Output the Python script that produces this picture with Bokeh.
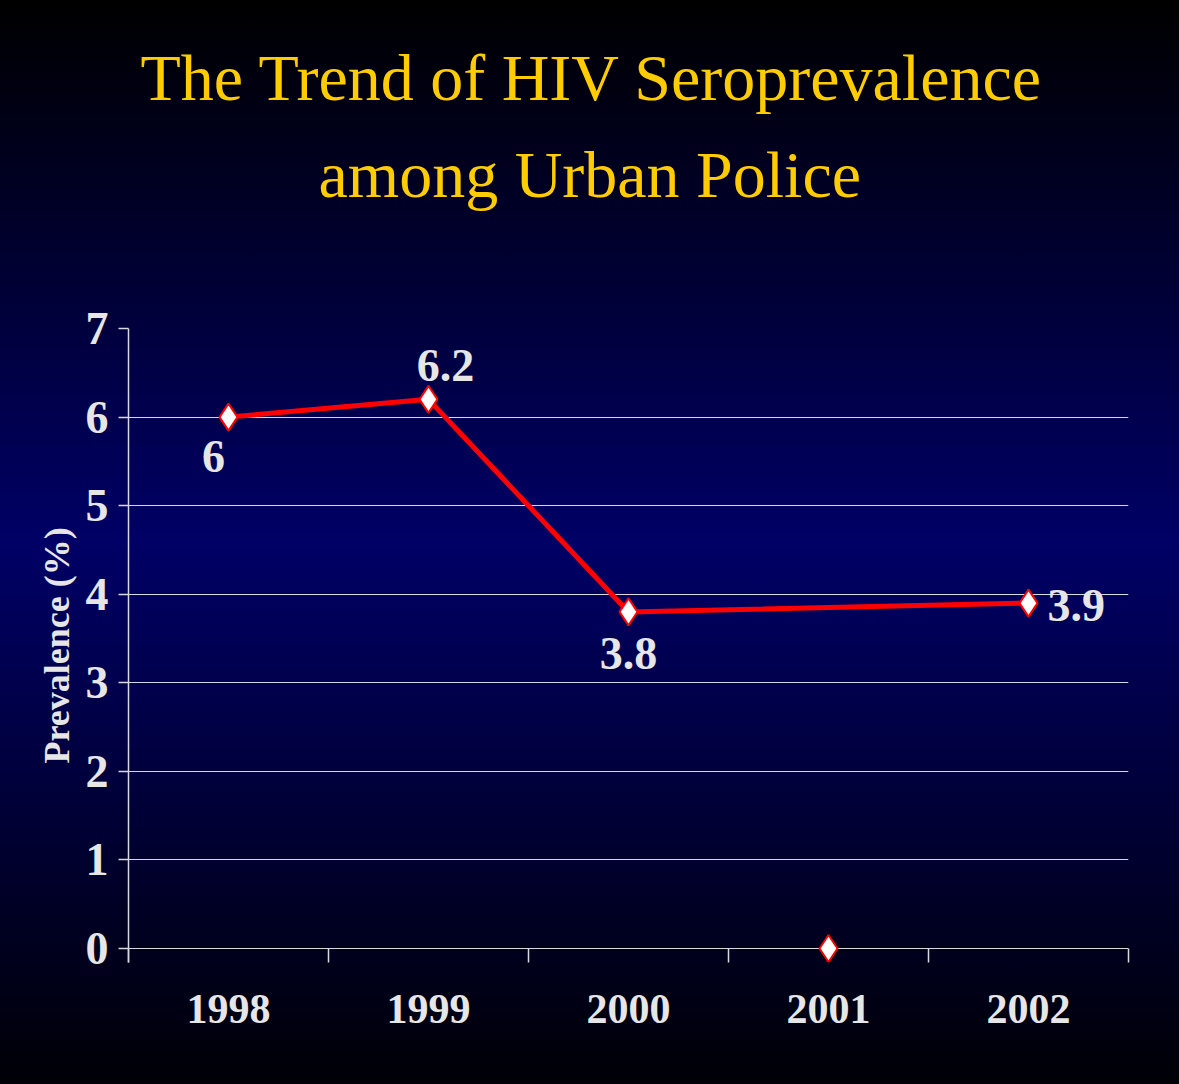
from bokeh.plotting import figure
from bokeh.models import Range1d, FixedTicker, Title
from bokeh.embed import file_html
from bokeh.resources import INLINE
from bokeh.core.properties import value

# ---- data ----
years = ["1998", "1999", "2000", "2001", "2002"]
prevalence = [6.0, 6.2, 3.8, None, 3.9]      # 2001: no value (marker sits on the axis)
y_ticks = [0, 1, 2, 3, 4, 5, 6, 7]
title_lines = ["The Trend of HIV Seroprevalence", "among Urban Police"]
y_label = "Prevalence (%)"
label_place = ["below_left", "above", "below", None, "right"]

# ---- layout (pixels) ----
W, H = 1179, 1084
FL, FR, FT, FB = 128, 1128, 328, 962
Y0_PX = 948
YMAX = 7
ppu = (Y0_PX - FT) / YMAX
y_start = -(FB - Y0_PX) / ppu

TXT = "#E6E6E6"
LINE = "#D8D8E0"
SERIF = value("Liberation Serif")

p = figure(width=W, height=H, output_backend="svg", toolbar_location=None,
           x_range=Range1d(0, len(years)), y_range=Range1d(y_start, YMAX),
           min_border_left=FL, min_border_right=W - FR,
           min_border_top=FT, min_border_bottom=H - FB)
p.background_fill_alpha = 0
p.border_fill_alpha = 0
p.outline_line_color = None
p.styles = {"background": "linear-gradient(to bottom, #000000 0%, #000066 50%, #000006 100%)"}

# grid
p.xgrid.visible = False
p.ygrid.ticker = FixedTicker(ticks=y_ticks)
p.ygrid.grid_line_color = LINE
p.ygrid.grid_line_width = 1.2

# y axis
p.yaxis.ticker = FixedTicker(ticks=y_ticks)
p.yaxis.axis_line_color = LINE
p.yaxis.axis_line_width = 1.5
p.yaxis.major_tick_line_color = LINE
p.yaxis.major_tick_line_width = 1.5
p.yaxis.major_tick_out = 10
p.yaxis.major_tick_in = 0
p.yaxis.minor_tick_line_color = None
p.yaxis.major_label_text_font = "Liberation Serif"
p.yaxis.major_label_text_font_style = "bold"
p.yaxis.major_label_text_font_size = "46px"
p.yaxis.major_label_text_color = TXT
p.yaxis.major_label_standoff = 10
p.yaxis.axis_label = y_label
p.yaxis.axis_label_text_font = "Liberation Serif"
p.yaxis.axis_label_text_font_style = "bold"
p.yaxis.axis_label_text_font_size = "36px"
p.yaxis.axis_label_text_color = TXT
p.yaxis.axis_label_standoff = 6

# x axis (labels at category centres, ticks at category boundaries)
centers = [i + 0.5 for i in range(len(years))]
bounds_ticks = [float(i) for i in range(len(years) + 1)]
p.xaxis.ticker = FixedTicker(ticks=centers, minor_ticks=bounds_ticks)
p.xaxis.major_label_overrides = {c: y for c, y in zip(centers, years)}
p.xaxis.axis_line_color = None
p.xaxis.major_tick_line_color = None
p.xaxis.major_tick_out = 0
p.xaxis.major_tick_in = 0
p.xaxis.minor_tick_line_color = LINE
p.xaxis.minor_tick_line_width = 1.5
p.xaxis.minor_tick_out = 0
p.xaxis.minor_tick_in = FB - Y0_PX
p.xaxis.major_label_text_font = "Liberation Serif"
p.xaxis.major_label_text_font_style = "bold"
p.xaxis.major_label_text_font_size = "42px"
p.xaxis.major_label_text_color = TXT
p.xaxis.major_label_standoff = 32

# series
line_x = [c for c, v in zip(centers, prevalence) if v is not None]
line_y = [v for v in prevalence if v is not None]
p.line(line_x, line_y, line_color="#FF0000", line_width=5)
mk_y = [v if v is not None else 0 for v in prevalence]
p.scatter(centers, mk_y, marker="diamond", size=27, fill_color="white",
          line_color="#FF0000", line_width=2)

# data labels
offsets = {"below_left": (-15, 39, "center"), "above": (17, -34, "center"),
           "below": (0, 42, "center"), "right": (19, 2, "left")}
for c, v, pl in zip(centers, prevalence, label_place):
    if v is None or pl is None:
        continue
    dx, dy, al = offsets[pl]
    p.text([c], [v], text=[f"{v:g}"], x_offset=dx, y_offset=dy, text_align=al,
           text_baseline="alphabetic", text_font=SERIF, text_font_style="bold",
           text_font_size="46px", text_color=TXT)

# title: panels stack upward from the frame; a blank spacer comes first
p.add_layout(Title(text=" ", text_font_size="10px", standoff=97), "above")
for line, off, so in zip(reversed(title_lines), [190, 12], [15, 29]):
    p.add_layout(Title(text=line, align="left", offset=off,
                       text_font="Liberation Serif", text_font_style="normal",
                       text_font_size="66px", text_color="#FFCC00",
                       standoff=so), "above")

open("out.html", "w").write(file_html(p, INLINE))
